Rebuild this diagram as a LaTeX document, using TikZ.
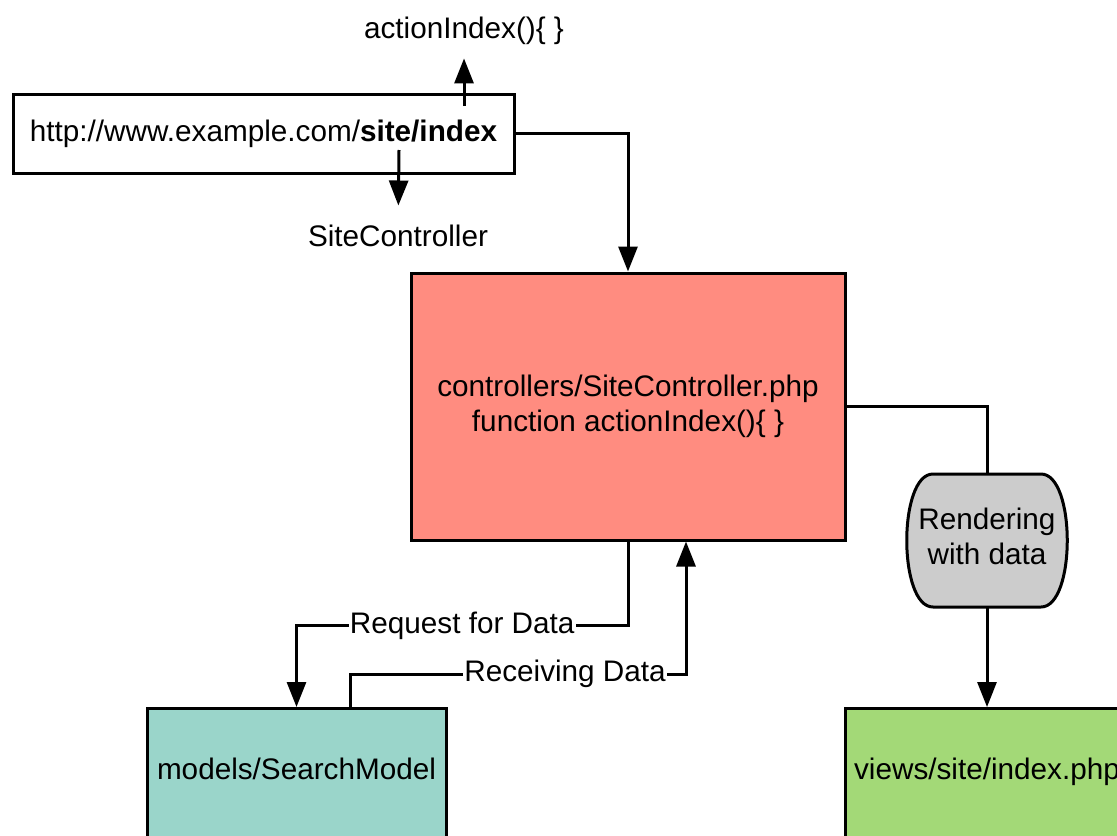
\documentclass[tikz,border=0pt]{standalone}
\usepackage{fontspec}
\setmainfont{Liberation Sans}
\usetikzlibrary{arrows.meta,calc,backgrounds}

\definecolor{ctrlred}{HTML}{FF8C80}
\definecolor{modelteal}{HTML}{9AD5CA}
\definecolor{viewgreen}{HTML}{A3D977}
\definecolor{rendergray}{HTML}{CCCCCC}

\tikzset{
  every node/.style={font=\fontsize{14.85pt}{17.5pt}\selectfont},
  box/.style={draw, line width=1.5pt, inner sep=0pt},
  wire/.style={line width=1.5pt},
  conn/.style={wire, -{Triangle[length=12.5pt,width=9.5pt]}},
  lbl/.style={fill=white, inner xsep=0.5pt, inner ysep=1pt},
}

\begin{document}
\begin{tikzpicture}[x=0.5pt,y=-0.5pt]
 \useasboundingbox (0,0) rectangle (1117,835);
 \clip (0,0) rectangle (1117,835);

 % url and its two parts
 \node[box, minimum width=250.5pt, minimum height=39.5pt] (url) at (263.5,133.5) {http://www.example.com/\textbf{site/index}};
 \node[inner ysep=6.6pt] (action) at (464,31) {actionIndex()\{ \}};
 \node[inner ysep=9.6pt] (sitectl) at (398,236) {SiteController};
 \coordinate (urlup) at (464,106);
 \coordinate (urldown) at (399,150);

 \node[box, fill=ctrlred, minimum width=217pt, minimum height=133.5pt, align=center] (ctrl) at (628,406.5) {controllers/SiteController.php\\function actionIndex()\{ \}};
 \node[inner sep=0pt, outer sep=0pt, minimum width=81pt, minimum height=66.5pt, text depth=4pt, align=center] (render) at (987,540.5) {Rendering\\with data};
 \node[box, fill=modelteal, anchor=north, minimum width=149.5pt, text height=35.5pt, text depth=61pt] (model) at (296.5,707) {models/SearchModel};
 \node[box, fill=viewgreen, anchor=north, minimum width=142pt, text height=35.5pt, text depth=61pt] (views) at (987,707) {views/site/index.php};

 \begin{scope}[on background layer]
  \draw[wire, fill=rendergray] ($(render.north west)+(27,0)$) -- ($(render.north east)+(-27,0)$)
    .. controls ($(render.north east)+(8,0)$) and ($(render.south east)+(8,0)$) .. ($(render.south east)+(-27,0)$)
    -- ($(render.south west)+(27,0)$)
    .. controls ($(render.south west)+(-8,0)$) and ($(render.north west)+(-8,0)$) .. cycle;
 \end{scope}

 \draw[conn] (urlup) -- (action);
 \draw[conn] (urldown) -- (sitectl);
 \draw[conn] (url.east) -| (ctrl.north);
 \draw[wire] (ctrl.east) -| (render.north);
 \draw[conn] (render.south) -- (views.north);
 \draw[conn] (ctrl.south) -- ++(0,84) -| node[lbl, pos=0.25] {Request for Data} (model.north);
 \draw[conn] ([xshift=26.75pt]model.north) -- ++(0,-33) -| node[lbl, pos=0.32] {Receiving Data} ([xshift=29pt]ctrl.south);
\end{tikzpicture}
\end{document}
